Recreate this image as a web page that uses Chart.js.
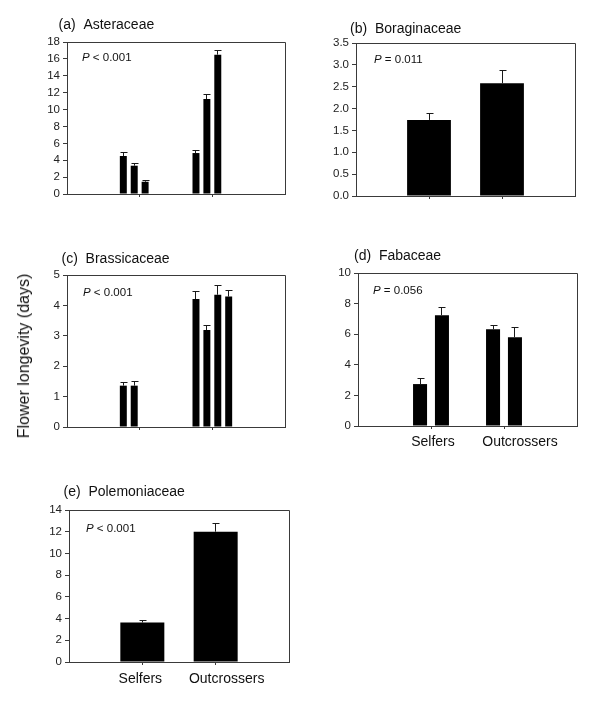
<!DOCTYPE html>
<html>
<head>
<meta charset="utf-8">
<script src="https://cdn.jsdelivr.net/npm/chart.js@4.4.1/dist/chart.umd.min.js"></script>
<style>
  html, body { margin: 0; padding: 0; background: #fff; }
  #wrap { position: relative; width: 600px; height: 710px; overflow: hidden; background: #fff; }
  canvas { position: absolute; }
  #ytitle { position: absolute; left: 24px; top: 356px; transform: translate(-50%, -50%) rotate(-90deg);
    font-family: "Liberation Sans", Arial, sans-serif; font-size: 16px; color: #111; white-space: nowrap; }
</style>
</head>
<body>
<div id="wrap">
  <canvas id="ca"></canvas>
  <canvas id="cb"></canvas>
  <canvas id="cc"></canvas>
  <canvas id="cd"></canvas>
  <canvas id="ce"></canvas>
  <div id="ytitle">Flower longevity (days)</div>
</div>
<script>
// ---------- data ----------
const categories = ['Selfers', 'Outcrossers'];

// (a) Asteraceae
const asterSelfers = [4.5, 3.35, 1.45];
const asterSelfersSE = [0.36, 0.32, 0.1];
const asterOutcrossers = [4.85, 11.25, 16.5];
const asterOutcrossersSE = [0.35, 0.5, 0.55];
const asterYTicks = [0, 2, 4, 6, 8, 10, 12, 14, 16, 18];

// (b) Boraginaceae
const boragSelfers = [1.74];
const boragSelfersSE = [0.15];
const boragOutcrossers = [2.58];
const boragOutcrossersSE = [0.29];
const boragYTicks = [0, 0.5, 1.0, 1.5, 2.0, 2.5, 3.0, 3.5];

// (c) Brassicaceae
const brassSelfers = [1.36, 1.36];
const brassSelfersSE = [0.12, 0.15];
const brassOutcrossers = [4.21, 3.19, 4.35, 4.29];
const brassOutcrossersSE = [0.25, 0.16, 0.29, 0.19];
const brassYTicks = [0, 1, 2, 3, 4, 5];

// (d) Fabaceae
const fabSelfers = [2.74, 7.24];
const fabSelfersSE = [0.35, 0.53];
const fabOutcrossers = [6.32, 5.8];
const fabOutcrossersSE = [0.27, 0.61];
const fabYTicks = [0, 2, 4, 6, 8, 10];

// (e) Polemoniaceae
const polemSelfers = [3.64];
const polemSelfersSE = [0.22];
const polemOutcrossers = [12.0];
const polemOutcrossersSE = [0.74];
const polemYTicks = [0, 2, 4, 6, 8, 10, 12, 14];

// ---------- setup ----------
Chart.defaults.font.family = '"Liberation Sans", Arial, sans-serif';
Chart.defaults.color = '#111';
const AXIS = '#3a3a3a';
const FONT = '"Liberation Sans", Arial, sans-serif';

function alignPx(p) { return Math.round(p - 0.5) + 0.5; }

const framePlugin = {
  id: 'frame',
  afterDraw(chart) {
    const a = chart.chartArea, ctx = chart.ctx;
    ctx.save();
    ctx.strokeStyle = AXIS; ctx.lineWidth = 1;
    ctx.beginPath();
    ctx.moveTo(alignPx(a.left), alignPx(a.top));
    ctx.lineTo(alignPx(a.right), alignPx(a.top));
    ctx.lineTo(alignPx(a.right), alignPx(a.bottom));
    ctx.stroke();
    ctx.restore();
  }
};

const errorPlugin = {
  id: 'errbars',
  afterDatasetsDraw(chart) {
    const ctx = chart.ctx, ys = chart.scales.y;
    ctx.save();
    ctx.strokeStyle = '#1a1a1a'; ctx.lineWidth = 1;
    chart.data.datasets.forEach((ds, di) => {
      const meta = chart.getDatasetMeta(di);
      meta.data.forEach((bar, i) => {
        const v = ds.data[i], e = ds.errors ? ds.errors[i] : null;
        if (v == null || e == null) return;
        const top = alignPx(ys.getPixelForValue(v + e));
        const x = alignPx(bar.x);
        ctx.beginPath();
        ctx.moveTo(x, bar.y); ctx.lineTo(x, top);
        ctx.moveTo(x - 3, top); ctx.lineTo(x + 4, top);
        ctx.stroke();
      });
    });
    ctx.restore();
  }
};

const textPlugin = {
  id: 'paneltext',
  afterDraw(chart, args, o) {
    const a = chart.chartArea, ctx = chart.ctx;
    ctx.save();
    ctx.fillStyle = '#111';
    ctx.textBaseline = 'middle';
    ctx.textAlign = 'left';
    // panel title
    ctx.font = '14px ' + FONT;
    ctx.fillText(o.title, a.left + o.tdx, a.top + o.tdy);
    // P value
    ctx.font = 'italic 11.5px ' + FONT;
    const px = a.left + o.pdx, py = a.top + o.pdy;
    ctx.fillText('P', px, py);
    const w = ctx.measureText('P').width;
    ctx.font = '11.5px ' + FONT;
    ctx.fillText(o.ptext, px + w, py);
    // category labels
    if (o.showX) {
      const xs = chart.scales.x;
      ctx.font = '14px ' + FONT;
      ctx.textAlign = 'center';
      categories.forEach((c, i) => {
        const x = xs.getPixelForValue(i + 1) + o.xoff[i];
        ctx.fillText(c, x, a.bottom + o.xdy);
      });
    }
    ctx.restore();
  }
};

function buildDatasets(sel, selSE, out, outSE, slots, barPct) {
  const ds = [];
  for (let i = 0; i < slots; i++) {
    ds.push({
      label: 'slot ' + (i + 1),
      data: [null, sel[i] ?? null, out[i] ?? null, null],
      errors: [null, selSE[i] ?? null, outSE[i] ?? null, null],
      backgroundColor: '#000',
      borderWidth: 0,
      categoryPercentage: 0.6,
      barPercentage: barPct
    });
  }
  return ds;
}

function makePanel(id, box, datasets, yTicks, decimals, text) {
  const cv = document.getElementById(id);
  const W = box.R - box.L + 60, H = box.B - box.T + 70;
  cv.width = W; cv.height = H;
  cv.style.left = (box.L - 50) + 'px';
  cv.style.top = (box.T - 30) + 'px';
  cv.style.width = W + 'px'; cv.style.height = H + 'px';
  const labels = ['', ...categories, ''];
  new Chart(cv, {
    type: 'bar',
    data: { labels, datasets },
    plugins: [framePlugin, errorPlugin, textPlugin],
    options: {
      responsive: false,
      animation: false,
      devicePixelRatio: 1,
      layout: { padding: { left: 10, top: 30, right: 10, bottom: 10 } },
      plugins: {
        legend: { display: false },
        tooltip: { enabled: false },
        paneltext: text
      },
      scales: {
        x: {
          type: 'category',
          offset: false,
          grid: {
            offset: false,
            drawOnChartArea: false, drawTicks: true, tickLength: 3,
            color: ctx => (ctx.index === 0 || ctx.index === labels.length - 1) ? 'rgba(0,0,0,0)' : AXIS
          },
          border: { display: true, color: AXIS, width: 1 },
          ticks: { display: true, autoSkip: false, color: 'rgba(0,0,0,0)', callback: () => '' },
          afterFit: s => { s.height = 30; }
        },
        y: {
          min: yTicks[0], max: yTicks[yTicks.length - 1],
          afterBuildTicks: s => { s.ticks = yTicks.map(v => ({ value: v })); },
          grid: { drawOnChartArea: false, drawTicks: true, tickLength: 4, color: AXIS },
          border: { display: true, color: AXIS, width: 1 },
          ticks: {
            autoSkip: false,
            padding: 3, color: '#222', font: { size: 11.5 },
            callback: v => Number(v).toFixed(decimals)
          },
          afterFit: s => { s.width = 40; }
        }
      }
    }
  });
}

makePanel('ca', { L: 67, R: 285, T: 42, B: 194 },
  buildDatasets(asterSelfers, asterSelfersSE, asterOutcrossers, asterOutcrossersSE, 4, 0.64),
  asterYTicks, 0,
  { title: '(a)  Asteraceae', tdx: -8.5, tdy: -17, pdx: 15, pdy: 16, ptext: ' < 0.001', showX: false });

makePanel('cb', { L: 356, R: 575, T: 43, B: 196 },
  buildDatasets(boragSelfers, boragSelfersSE, boragOutcrossers, boragOutcrossersSE, 1, 1.0),
  boragYTicks, 1,
  { title: '(b)  Boraginaceae', tdx: -6, tdy: -14, pdx: 18, pdy: 17, ptext: ' = 0.011', showX: false });

makePanel('cc', { L: 67, R: 285, T: 275, B: 427 },
  buildDatasets(brassSelfers, brassSelfersSE, brassOutcrossers, brassOutcrossersSE, 4, 0.64),
  brassYTicks, 0,
  { title: '(c)  Brassicaceae', tdx: -5.5, tdy: -16, pdx: 16, pdy: 18, ptext: ' < 0.001', showX: false });

makePanel('cd', { L: 358, R: 577, T: 273, B: 426 },
  buildDatasets(fabSelfers, fabSelfersSE, fabOutcrossers, fabOutcrossersSE, 2, 0.64),
  fabYTicks, 0,
  { title: '(d)  Fabaceae', tdx: -4, tdy: -16.5, pdx: 15, pdy: 17.5, ptext: ' = 0.056',
    showX: true, xoff: [2, 16], xdy: 16 });

makePanel('ce', { L: 69, R: 289, T: 510, B: 662 },
  buildDatasets(polemSelfers, polemSelfersSE, polemOutcrossers, polemOutcrossersSE, 1, 1.0),
  polemYTicks, 0,
  { title: '(e)  Polemoniaceae', tdx: -5.5, tdy: -17.5, pdx: 17, pdy: 19, ptext: ' < 0.001',
    showX: true, xoff: [-2, 11], xdy: 17 });
</script>
</body>
</html>
